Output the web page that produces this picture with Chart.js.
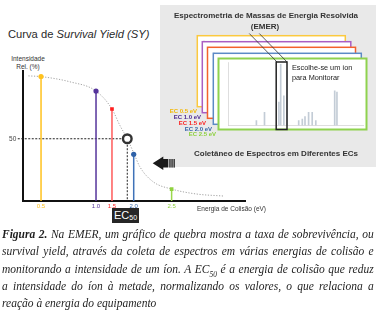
<!DOCTYPE html>
<html>
<head>
<meta charset="utf-8">
<script src="https://cdn.jsdelivr.net/npm/chart.js@4.4.1/dist/chart.umd.min.js"></script>
<style>
  body { margin:0; width:376px; height:314px; background:#fff; position:relative; overflow:hidden; font-family:"Liberation Sans", Arial, sans-serif; }
  .abs { position:absolute; }
  #title { left:8px; top:27.5px; font-size:11.2px; color:#2a2a2a; white-space:nowrap; }
  #ylab { left:8px; top:55px; width:40px; text-align:center; font-size:6.5px; line-height:7.7px; color:#333; }
  #xlab { left:197px; top:205px; font-size:6.5px; color:#333; white-space:nowrap; }
  #ec50 { left:112px; top:208px; width:27px; height:15px; background:#262626; color:#fff; font-size:11px; line-height:15px; text-align:center; }
  #ec50 sub { font-size:7px; vertical-align:-1px; line-height:0; }
  #panel { left:160px; top:5px; width:216px; height:162px; background:#e9e9e9; }
  .ptitle { font-weight:bold; font-size:8px; color:#333; text-align:center; white-space:nowrap; }
  .eclab { font-weight:bold; font-size:6px; white-space:nowrap; text-align:right; width:40px; line-height:7px; }
  #pick { left:292px; top:63px; font-size:7.3px; line-height:10px; color:#222; white-space:nowrap; }
  #cap { left:2px; top:226px; width:404px; transform:scaleX(0.92); transform-origin:0 0; font-family:"Liberation Serif", "Times New Roman", serif; font-style:italic; font-size:12.5px; line-height:17.3px; color:#1e1e1e; }
  #cap .j { text-align:justify; text-align-last:justify; }
  #cap sub { font-size:8px; line-height:0; }
</style>
</head>
<body>
<div id="title" class="abs">Curva de <i>Survival Yield (SY)</i></div>
<div id="ylab" class="abs">Intensidade<br>Rel. (%)</div>
<div class="abs" style="left:0;top:60px;width:260px;height:165px;">
  <canvas id="syChart" width="260" height="165"></canvas>
</div>
<div id="xlab" class="abs">Energia de Colisão (eV)</div>
<div id="ec50" class="abs">EC<sub>50</sub></div>

<div id="panel" class="abs"></div>
<div class="abs ptitle" style="left:160px;width:212px;top:11px;">Espectrometria de Massas de Energia Resolvida</div>
<div class="abs ptitle" style="left:160px;width:210px;top:22px;">(EMER)</div>

<svg class="abs" style="left:0;top:0" width="376" height="314">
  <g fill="#fff">
    <rect x="197.3" y="35.7" width="148" height="71" stroke="#fbc93f" stroke-width="1.5"/>
    <line x1="204" y1="40" x2="204" y2="104" stroke="#d8d8d8" stroke-width="0.6"/>
    <rect x="202.3" y="41.7" width="148.5" height="71" stroke="#a95ec3" stroke-width="1.5"/>
    <line x1="209" y1="46" x2="209" y2="110" stroke="#d8d8d8" stroke-width="0.6"/>
    <rect x="207.5" y="47.3" width="148" height="71" stroke="#f3622c" stroke-width="1.5"/>
    <line x1="214" y1="52" x2="214" y2="116" stroke="#d8d8d8" stroke-width="0.6"/>
    <rect x="213.3" y="53.3" width="148" height="71" stroke="#5c8ac5" stroke-width="1.5"/>
    <line x1="220" y1="58" x2="220" y2="122" stroke="#d8d8d8" stroke-width="0.6"/>
    <rect x="218.5" y="58.5" width="148" height="71" stroke="#8fd24e" stroke-width="2"/>
  </g>
</svg>
<div class="abs eclab" style="left:157px;top:107.5px;color:#f2b705;">EC 0.5 eV</div>
<div class="abs eclab" style="left:161px;top:113.5px;color:#4e2a93;">EC 1.0 eV</div>
<div class="abs eclab" style="left:166px;top:119.5px;color:#fb1f1f;">EC 1.5 eV</div>
<div class="abs eclab" style="left:172px;top:125.5px;color:#3565a8;">EC 2.0 eV</div>
<div class="abs eclab" style="left:176px;top:131px;color:#8cd03c;">EC 2.5 eV</div>

<div class="abs" style="left:219.5px;top:59.5px;width:145px;height:69px;">
  <canvas id="specChart" width="145" height="69"></canvas>
</div>

<svg class="abs" style="left:0;top:0" width="376" height="314">
  <line x1="249.3" y1="33.5" x2="277" y2="62" stroke="#333" stroke-width="0.8"/>
  <line x1="259.3" y1="33.5" x2="287" y2="62" stroke="#333" stroke-width="0.8"/>
  <rect x="276.2" y="62" width="10.8" height="67.5" fill="none" stroke="#222" stroke-width="1.5"/>
  <g fill="#1a1a1a">
    <polygon points="152.7,163.3 163.3,156.5 163.3,159 168.3,159 168.3,167.6 163.3,167.6 163.3,170.1"/>
    <rect x="169.3" y="159" width="1.3" height="8.6"/>
    <rect x="171.4" y="159" width="1.3" height="8.6"/>
    <rect x="173.5" y="159" width="1.3" height="8.6"/>
  </g>
</svg>
<div id="pick" class="abs">Escolhe-se um íon<br>para Monitorar</div>
<div class="abs ptitle" style="left:176px;width:200px;top:149px;">Coletâneo de Espectros em Diferentes ECs</div>

<div id="cap" class="abs">
  <div class="j"><b>Figura 2.</b> Na EMER, um gráfico de quebra mostra a taxa de sobrevivência, ou</div>
  <div class="j">survival yield, através da coleta de espectros em várias energias de colisão e</div>
  <div class="j">monitorando a intensidade de um íon. A EC<sub>50</sub> é a energia de colisão que reduz</div>
  <div class="j">a intensidade do íon à metade, normalizando os valores, o que relaciona a</div>
  <div>reação à energia do equipamento</div>
</div>

<script>
// stems of the survival yield plot (x position read along the drawn energy axis, 0-100)
var stemLabels = ["0.5", "1.0", "1.5", "2.0", "2.5"];
var stemPos = [8.0, 32.8, 40.0, 49.8, 66.9];
var stemValues = [100, 88.3, 73.9, 37.5, 9.6];
var stemColors = ["#ffc21e", "#55349b", "#ff5a5a", "#3f72b8", "#9bd84c"];
var markerColors = ["#ffc21e", "#55349b", "#ff1f1f", "#2f62a8", "#8fd23e"];
var markerStyles = ["circle", "circle", "rect", "circle", "rect"];

// dotted survival yield curve
var curveX = [2.3, 8.0, 21.1, 32.8, 40.0, 43.6, 46.9, 49.8, 52.6, 58.6, 66.9, 78.2, 90.2];
var curveY = [100.5, 99.9, 95.7, 88.3, 73.9, 60.6, 50, 38.6, 27.4, 15.4, 9.6, 5.6, 4.0];

var ec50Pos = 46.9;
var ec50Value = 50;
var yTicks = [50];

// spectrum in the front (EC 2.5 eV) frame
var specMz = [6, 15, 31, 33, 36.5, 40, 53, 57, 60, 64, 68, 72, 93, 95.5];
var specInt = [8, 21, 37, 97, 47, 87, 8, 10, 14, 21, 21, 8, 55, 53];

var sans = "'Liberation Sans', Arial, sans-serif";

var datasets = [];
datasets.push({
  data: [{x: ec50Pos, y: ec50Value}],
  pointRadius: 4.3,
  pointBorderWidth: 2.4,
  pointBorderColor: "#333",
  pointBackgroundColor: "#fff",
  order: 0
});
stemLabels.forEach(function (l, i) {
  datasets.push({
    data: [{x: stemPos[i], y: 0}, {x: stemPos[i], y: stemValues[i]}],
    showLine: true,
    borderColor: stemColors[i],
    borderWidth: 1.5,
    pointRadius: [0, 2.6],
    pointStyle: markerStyles[i],
    pointBackgroundColor: markerColors[i],
    pointBorderWidth: 0,
    order: 1
  });
});
datasets.push({
  data: curveX.map(function (x, i) { return {x: x, y: curveY[i]}; }),
  showLine: true,
  cubicInterpolationMode: "monotone",
  borderColor: "#8c8c8c",
  borderWidth: 0.8,
  borderDash: [1.2, 1.6],
  pointRadius: 0,
  order: 2
});
datasets.push({
  data: [{x: -2.5, y: ec50Value}, {x: ec50Pos, y: ec50Value}, {x: ec50Pos, y: 0}],
  showLine: true,
  borderColor: "#222",
  borderWidth: 1,
  borderDash: [2, 1.5],
  pointRadius: 0,
  clip: false,
  order: 3
});

new Chart("syChart", {
  type: "scatter",
  data: { datasets: datasets },
  options: {
    responsive: false,
    animation: false,
    devicePixelRatio: 1,
    layout: { padding: { top: 10, right: 15, left: 0, bottom: 0 } },
    plugins: { legend: { display: false }, tooltip: { enabled: false } },
    scales: {
      x: {
        type: "linear", min: 0, max: 100,
        grid: { display: false, drawTicks: false },
        border: { color: "#111", width: 2 },
        afterBuildTicks: function (s) { s.ticks = stemPos.map(function (v) { return {value: v}; }); },
        afterFit: function (s) { s.height = 24; },
        ticks: {
          autoSkip: false, maxRotation: 0, padding: 2,
          font: { size: 6, family: sans },
          color: function (c) { return markerColors[c.index]; },
          callback: function (v, i) { return stemLabels[i]; }
        }
      },
      y: {
        min: 0, max: 104.5,
        grid: { display: false, drawTicks: false },
        border: { color: "#111", width: 2 },
        afterBuildTicks: function (s) { s.ticks = yTicks.map(function (v) { return {value: v}; }); },
        afterFit: function (s) { s.width = 23.3; },
        ticks: { padding: 7, font: { size: 6.5, family: sans }, color: "#444" }
      }
    }
  }
});

new Chart("specChart", {
  type: "bar",
  data: {
    datasets: [{
      data: specMz.map(function (x, i) { return {x: x, y: specInt[i]}; }),
      backgroundColor: "#c3ccd6",
      barThickness: 1
    }]
  },
  options: {
    responsive: false,
    animation: false,
    devicePixelRatio: 1,
    layout: { padding: { top: 2.5, right: 1.5, left: 0, bottom: 0 } },
    plugins: { legend: { display: false }, tooltip: { enabled: false } },
    scales: {
      x: {
        type: "linear", min: 0, max: 100,
        grid: { display: false, drawTicks: false },
        border: { color: "#c8c8c8", width: 0.6 },
        afterFit: function (s) { s.height = 3.5; },
        ticks: { display: false }
      },
      y: {
        min: 0, max: 100,
        grid: { display: false, drawTicks: false },
        border: { color: "#c8c8c8", width: 0.6 },
        afterFit: function (s) { s.width = 8.5; },
        ticks: { display: false }
      }
    }
  }
});
</script>
</body>
</html>
